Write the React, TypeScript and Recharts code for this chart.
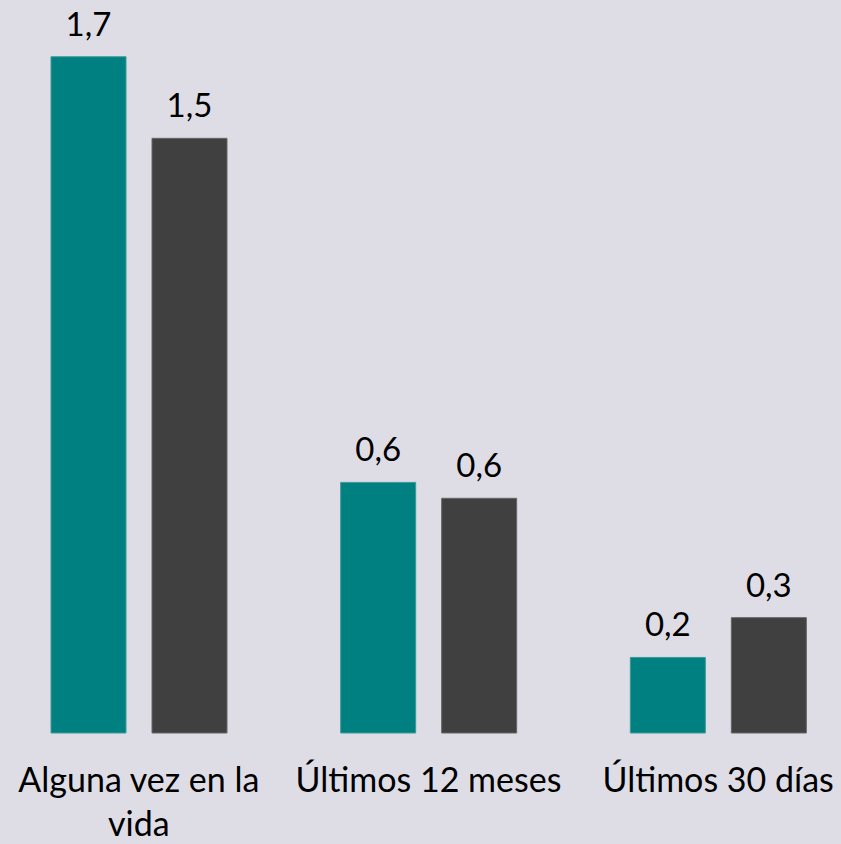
import { Bar, BarChart, LabelList, XAxis, YAxis } from "recharts";

const CATEGORIES = ["Alguna vez en la vida", "Últimos 12 meses", "Últimos 30 días"];
const SERIES_A = [1.7, 0.63, 0.19];
const SERIES_B = [1.495, 0.59, 0.29];

const data = CATEGORIES.map((name, i) => ({ name, a: SERIES_A[i], b: SERIES_B[i] }));

const FONT = "Lato, 'Open Sans', sans-serif";
const fmt = (v: number) => v.toFixed(1).replace(".", ",");

// break a label into lines of at most maxChars characters
const wrap = (s: string, maxChars = 18) => {
  const lines: string[] = [];
  let cur = "";
  for (const w of s.split(" ")) {
    const next = cur ? cur + " " + w : w;
    if (next.length > maxChars && cur) {
      lines.push(cur);
      cur = w;
    } else cur = next;
  }
  if (cur) lines.push(cur);
  return lines;
};

const CategoryTick = ({ x, y, payload }: { x?: number; y?: number; payload?: { value: string } }) => {
  const lines = wrap(payload?.value ?? "");
  return (
    <text x={x} y={(y ?? 0) + 51} textAnchor="middle" fill="#000" fontSize={34} fontFamily={FONT}>
      {lines.map((l, i) => (
        <tspan key={i} x={x} dy={i === 0 ? 0 : 44}>
          {l}
        </tspan>
      ))}
    </text>
  );
};

export default function App() {
  return (
    <div
      style={{
        position: "absolute",
        left: 0,
        top: 0,
        width: 841,
        height: 844,
        background: "#dedde6",
        overflow: "hidden",
      }}
    >
      <div style={{ position: "absolute", left: -6, top: 0 }}>
        <BarChart
          width={869}
          height={844}
          data={data}
          margin={{ top: 17, right: 0, bottom: 0, left: 0 }}
          barSize={75}
          barGap={26}
        >
          <XAxis
            dataKey="name"
            axisLine={false}
            tickLine={false}
            height={111}
            interval={0}
            tick={<CategoryTick />}
          />
          <YAxis hide domain={[0, 1.8]} />
          <Bar dataKey="a" fill="#008080" stroke="#3a9a9a" strokeWidth={1} isAnimationActive={false}>
            <LabelList dataKey="a" position="top" offset={21} formatter={(v: number) => fmt(v)} fill="#000" fontSize={33} fontFamily={FONT} />
          </Bar>
          <Bar dataKey="b" fill="#404040" stroke="#666" strokeWidth={1} isAnimationActive={false}>
            <LabelList dataKey="b" position="top" offset={21} formatter={(v: number) => fmt(v)} fill="#000" fontSize={33} fontFamily={FONT} />
          </Bar>
        </BarChart>
      </div>
    </div>
  );
}
